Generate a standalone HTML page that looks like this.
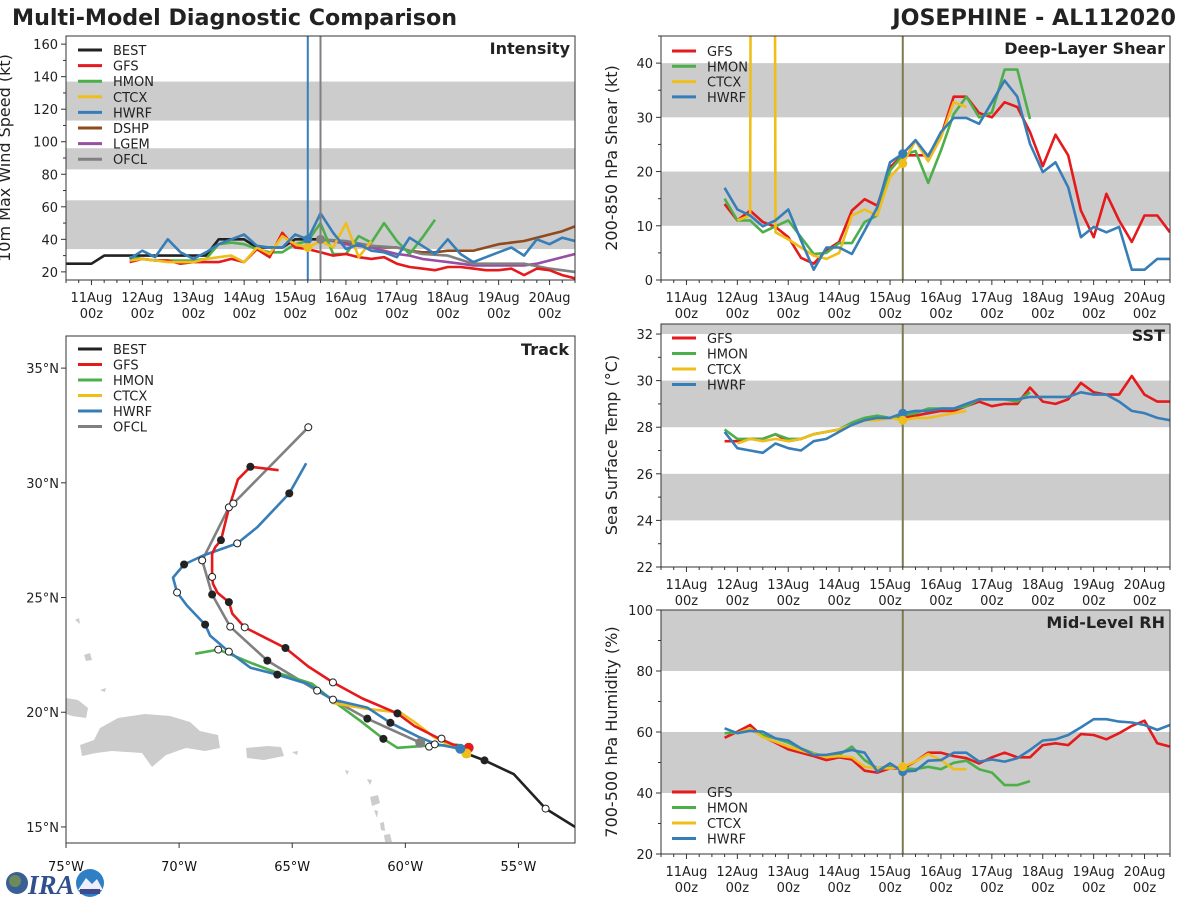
<!DOCTYPE html>
<html><head><meta charset="utf-8">
<style>
html,body{margin:0;padding:0;background:#fff;}
svg{display:block;font-family:"DejaVu Sans","Liberation Sans",sans-serif;}
</style></head>
<body>
<svg id="chart" width="1200" height="900" viewBox="0 0 1200 900" xmlns="http://www.w3.org/2000/svg">
<text x="12" y="25" font-size="22.2" font-weight="bold" fill="#222">Multi-Model Diagnostic Comparison</text>
<text x="1176" y="25" font-size="22.2" font-weight="bold" fill="#222" text-anchor="end">JOSEPHINE - AL112020</text>
<g>
<circle cx="17" cy="883" r="11" fill="#3a5f96"/>
<circle cx="15" cy="881" r="6" fill="#6d8a5a"/>
<text x="28" y="894" font-size="27" font-weight="bold" font-style="italic" fill="#2f4f8f" font-family="Liberation Serif, serif">IRA</text>
<circle cx="90" cy="883" r="14" fill="#2e7fc4"/>
<path d="M78 890 L86 878 L92 884 L97 879 L103 890 Z" fill="#eef"/>
<rect x="80" y="889" width="20" height="5" fill="#3d4b8c"/>
</g>
</svg>
<script>
// ---------------- DATA ----------------
const dayLabels = ["11Aug","12Aug","13Aug","14Aug","15Aug","16Aug","17Aug","18Aug","19Aug","20Aug"];
const intTicks = [20,40,60,80,100,120,140,160];
const shearTicks = [0,10,20,30,40];
const sstTicks = [22,24,26,28,30,32];
const rhTicks = [20,40,60,80,100];
const lonTicks = [-75,-70,-65,-60,-55];
const latTicks = [15,20,25,30,35];

// Intensity (kt), 6-hourly, start day offset from 11Aug00z
const bestIntStart = -0.5;
const bestInt = [25,25,25,30,30,30,30,30,30,30,30,30,40,40,40,35,35,35,40,40,40];
const gfsIntStart = 0.75;
const gfsInt = [26,28,27,27,25,26,26,26,28,26,34,29,44,35,34,32,30,31,29,28,29,25,23,22,21,23,23,22,21,21,22,18,22,21,18,16];
const hmonIntStart = 0.75;
const hmonInt = [29,28,27,27,27,27,28,37,38,37,34,32,32,37,39,50,31,31,42,38,50,39,31,41,52];
const ctcxIntStart = 0.75;
const ctcxInt = [27,28,27,26,26,26,28,29,30,26,35,31,42,37,35,39,35,50,29,39];
const hwrfIntStart = 0.75;
const hwrfInt = [28,33,29,40,32,28,32,37,40,43,36,35,35,43,40,56,44,34,37,33,32,29,41,36,31,40,31,26,29,32,35,30,40,37,41,39];
const dshpIntStart = 4.5;
const dshpInt = [40,39,38,37,36,35,35,33,32,32,33,33,33,35,37,38,39,41,43,45,48];
const lgemIntStart = 4.5;
const lgemInt = [40,39,37,36,35,33,31,30,28,27,26,25,24,24,24,24,24,25,27,29,31];
const ofclIntStart = 4.5;
const ofclInt = [40,39,36,35,31,30,25,25,25,22,20];

// Deep-layer shear (kt)
const gfsShrStart = 0.75;
const gfsShr = [14,11,12.8,10.7,9.8,7.9,4.1,3,5.5,7,12.8,14.9,13.7,20.8,23,23,23,26.6,33.8,33.8,30.8,30,32.8,31.9,27.3,21,26.8,23,12.8,7.9,15.9,11,7,11.9,11.9,8.8];
const hmonShrStart = 0.75;
const hmonShr = [15,11,11,8.8,9.9,11,7.9,4.8,5,6.8,6.8,10.7,11.9,20.2,23,23.8,17.9,23.9,30.6,33.8,30,30.9,38.8,38.8,29.7];
const ctcxShrStart = 1.0;
const ctcxShr = [11,11.9,999,8.8,7.5,6,4.5,3.9,5,11.9,13,11.9,19,21.5,25.7,21.9,26.3,32.8,31.9];
const hwrfShrStart = 0.75;
const hwrfShr = [17,13,11.9,9.9,11,13,7.3,1.9,6,6,4.8,9.1,13.4,21.7,23.3,25.8,22.8,27.3,29.9,29.9,28.8,32.8,36.8,33.8,25.1,19.9,21.7,17.1,7.9,9.8,8.8,9.8,1.9,1.9,3.9,3.9];

// SST (C)
const gfsSstStart = 0.75;
const gfsSst = [27.4,27.4,27.5,27.5,27.7,27.4,27.5,27.7,27.8,27.9,28.1,28.3,28.4,28.4,28.4,28.5,28.6,28.7,28.7,28.9,29.1,28.9,29,29,29.7,29.1,29,29.2,29.9,29.5,29.4,29.4,30.2,29.4,29.1,29.1];
const hmonSstStart = 0.75;
const hmonSst = [27.9,27.5,27.5,27.5,27.7,27.5,27.5,27.7,27.8,27.9,28.2,28.4,28.5,28.4,28.5,28.6,28.8,28.8,28.8,28.9,29.2,29.2,29.2,29.1,29.5];
const ctcxSstStart = 1.0;
const ctcxSst = [27.3,27.5,27.4,27.5,27.4,27.5,27.7,27.8,27.9,28.1,28.3,28.3,28.4,28.3,28.4,28.4,28.5,28.6,28.7];
const hwrfSstStart = 0.75;
const hwrfSst = [27.8,27.1,27.0,26.9,27.3,27.1,27.0,27.4,27.5,27.8,28.1,28.3,28.4,28.4,28.6,28.7,28.7,28.8,28.8,29,29.2,29.2,29.2,29.2,29.3,29.3,29.3,29.3,29.5,29.4,29.4,29.1,28.7,28.6,28.4,28.3];

// Mid-level RH (%)
const gfsRhStart = 0.75;
const gfsRh = [58.1,60.1,62.3,58.5,56.5,54.3,53.2,52.1,50.8,51.7,51,47.3,46.7,48.1,48.1,50.3,53.2,53.2,52.1,51.4,49.7,51.7,53.2,51.7,51.7,55.7,56.3,55.7,59.3,59,57.6,59.6,62,63.7,56.3,55.2];
const hmonRhStart = 0.75;
const hmonRh = [59.6,59.8,60.7,59,57.9,56.5,54.6,53,51.9,52.5,55.2,50.8,48.1,48.6,48.1,47.8,48.6,47.8,49.9,50.6,47.8,46.7,42.6,42.6,43.9];
const ctcxRhStart = 1.0;
const ctcxRh = [59.6,61.2,58.3,56.8,55.2,53.9,52.8,51.7,52.1,51.7,48.6,48.1,48.1,48.6,50.3,52.8,50.8,47.8,47.8];
const hwrfRhStart = 0.75;
const hwrfRh = [61.2,59.6,60.4,60.1,57.9,57.2,54.6,52.5,52.5,53.2,54.1,53.2,47,49.7,47,47.3,50.6,50.8,53.2,53.2,50.3,51,50.3,51.4,54.1,57.2,57.6,59,61.5,64.2,64.2,63.4,63.1,62.3,60.7,62.3];

// Tracks [lon, lat]
const bestTrack = [[-52.5,15.0],[-53.8,15.8],[-55.2,17.3],[-56.5,17.9],[-57.3,18.2],[-57.6,18.4]];
const bestTrackOpen = [[-53.8,15.8]];
const bestTrackFilled = [[-56.5,17.9]];
const gfsTrack = [[-57.2,18.45],[-57.9,18.6],[-58.6,18.9],[-59.6,19.4],[-60.35,19.95],[-61.9,20.6],[-63.2,21.3],[-64.3,22.0],[-65.3,22.8],[-66.1,23.2],[-67.1,23.7],[-67.65,24.3],[-67.8,24.8],[-68.3,25.2],[-68.5,25.6],[-68.54,25.9],[-68.54,26.9],[-68.4,27.2],[-68.15,27.5],[-67.8,28.9],[-67.4,30.15],[-66.85,30.7],[-65.6,30.55]];
const gfsTrackFilled = [[-60.35,19.95],[-65.3,22.8],[-67.8,24.8],[-68.15,27.5],[-66.85,30.7]];
const gfsTrackOpen = [[-58.4,18.85],[-63.2,21.3],[-67.1,23.7],[-68.54,25.9]];
const hmonTrack = [[-57.65,18.58],[-59.03,18.54],[-60.35,18.45],[-60.97,18.84],[-62.0,19.63],[-63.2,20.5],[-64.12,21.24],[-65.66,21.72],[-66.85,22.16],[-67.8,22.55],[-68.27,22.73],[-69.29,22.55]];
const hmonTrackFilled = [[-60.97,18.84]];
const hmonTrackOpen = [[-58.95,18.5],[-68.27,22.73]];
const ctcxTrack = [[-57.3,18.2],[-58.0,18.54],[-58.75,18.93],[-59.55,19.54],[-60.2,19.98],[-61.7,20.15],[-63.25,20.41]];
const hwrfTrack = [[-57.57,18.41],[-58.6,18.6],[-59.42,18.93],[-60.66,19.54],[-61.68,20.2],[-63.2,20.55],[-64.34,21.24],[-65.66,21.64],[-66.85,21.94],[-67.8,22.64],[-68.63,23.34],[-68.85,23.82],[-69.65,24.65],[-70.09,25.22],[-70.27,25.87],[-69.78,26.44],[-68.94,26.83],[-67.43,27.36],[-66.55,28.06],[-65.13,29.54],[-64.38,30.85]];
const hwrfTrackFilled = [[-60.66,19.54],[-65.66,21.64],[-68.85,23.82],[-69.78,26.44],[-65.13,29.54]];
const hwrfTrackOpen = [[-58.7,18.6],[-67.8,22.64],[-70.09,25.22],[-67.43,27.36]];
const ofclTrack = [[-59.34,18.67],[-61.68,19.72],[-63.2,20.55],[-63.9,20.94],[-66.1,22.25],[-67.74,23.73],[-68.54,25.13],[-68.98,26.62],[-67.8,28.93],[-67.6,29.1],[-64.29,32.42]];
const ofclTrackFilled = [[-61.68,19.72],[-66.1,22.25],[-68.54,25.13]];
const ofclTrackOpen = [[-63.2,20.55],[-63.9,20.94],[-67.74,23.73],[-68.98,26.62],[-67.8,28.93],[-67.6,29.1],[-64.29,32.42]];

// ---------------- DRAW ----------------
const NS = 'http://www.w3.org/2000/svg';
const svg = document.getElementById('chart');
function mk(tag, attrs, parent) {
  const e = document.createElementNS(NS, tag);
  for (const k in attrs) e.setAttribute(k, attrs[k]);
  (parent || svg).appendChild(e);
  return e;
}
const C = {BEST:'#222222', GFS:'#e41a1c', HMON:'#4daf4a', CTCX:'#f0be1a', HWRF:'#377eb8', DSHP:'#8f4a1e', LGEM:'#984ea3', OFCL:'#808080'};

function timePanel(id, x0, y0, w, h, vmin, vmax) {
  const p = {id, x0, y0, w, h, vmin, vmax};
  p.x = d => x0 + (d + 0.5) / 10 * w;
  p.y = v => y0 + h - (v - vmin) / (vmax - vmin) * h;
  const cp = mk('clipPath', {id: 'clip-' + id});
  mk('rect', {x: x0, y: y0, width: w, height: h}, cp);
  p.g = mk('g', {'clip-path': 'url(#clip-' + id + ')'});
  
  
  return p;
}
function band(p, a, b) {
  const r = mk('rect', {x: p.x0, y: p.y(b), width: p.w, height: p.y(a) - p.y(b), fill: '#cccccc'}, p.g);
  
  
}
function frame(p) {
  const r = mk('rect', {x: p.x0, y: p.y0, width: p.w, height: p.h, fill: 'none', stroke: '#333', 'stroke-width': 1});
  
  
}
function timeAxis(p) {
  for (let q = -2; q <= 38; q++) {
    const d = q / 4; const xx = p.x(d);
    if (xx < p.x0 - 0.5 || xx > p.x0 + p.w + 0.5) continue;
    const major = q % 4 === 0;
    const t = mk('line', {x1: xx, x2: xx, y1: p.y0 + p.h, y2: p.y0 + p.h + (major ? 5 : 3), stroke: '#333', 'stroke-width': 1});
    
    
  }
  dayLabels.forEach((lab, i) => {
    const xx = p.x(i);
    const t1 = mk('text', {x: xx, y: p.y0 + p.h + 22, 'font-size': 13, 'text-anchor': 'middle', fill: '#222'});
    t1.textContent = lab;
    
    
    const t2 = mk('text', {x: xx, y: p.y0 + p.h + 38, 'font-size': 13, 'text-anchor': 'middle', fill: '#222'});
    t2.textContent = '00z';
    
    
  });
}
function yAxis(p, ticks, minorStep, title, titleY, titleOff) {
  for (let v = Math.ceil(p.vmin / minorStep) * minorStep; v <= p.vmax + 1e-9; v += minorStep) {
    const yy = p.y(v);
    const major = ticks.indexOf(Math.round(v * 100) / 100) >= 0;
    const t = mk('line', {x1: p.x0 - (major ? 5 : 3), x2: p.x0, y1: yy, y2: yy, stroke: '#333', 'stroke-width': 1});
    
    
  }
  ticks.forEach(v => {
    const t = mk('text', {x: p.x0 - 8, y: p.y(v) + 5, 'font-size': 13, 'text-anchor': 'end', fill: '#222'});
    t.textContent = v;
    
    
  });
  const tx = p.x0 - titleOff;
  const t = mk('text', {x: tx, y: titleY, 'font-size': 16, 'text-anchor': 'middle', fill: '#222', transform: 'rotate(-90 ' + tx + ' ' + titleY + ')'});
  t.textContent = title;
  
  
}
function panelTitle(p, text, yy) {
  const t = mk('text', {x: p.x0 + p.w - 5, y: yy, 'font-size': 16, 'font-weight': 'bold', 'text-anchor': 'end', fill: '#222'});
  t.textContent = text;
  
  
}
function series(p, name, start, step, vals) {
  const pts = vals.map((v, i) => p.x(start + i * step).toFixed(1) + ',' + p.y(v).toFixed(1)).join(' ');
  const l = mk('polyline', {points: pts, fill: 'none', stroke: C[name], 'stroke-width': 2.6, 'stroke-linejoin': 'round'}, p.g);
  
  
}
function dot(p, name, d, v) {
  const c = mk('circle', {cx: p.x(d), cy: p.y(v), r: 4.5, fill: C[name]}, p.g);
  
  
}
function vline(p, d, color, nm) {
  const l = mk('line', {x1: p.x(d), x2: p.x(d), y1: p.y0, y2: p.y0 + p.h, stroke: color, 'stroke-width': 2}, p.g);
  
  
}
function legend(x, y, names, dy) {
  names.forEach((n, i) => {
    const l = mk('line', {x1: x, x2: x + 24, y1: y + i * dy, y2: y + i * dy, stroke: C[n], 'stroke-width': 3});
    
    
    const t = mk('text', {x: x + 35, y: y + i * dy + 5, 'font-size': 13, fill: '#222'});
    t.textContent = n;
    
    
  });
}

// Intensity
const pI = timePanel('intensity', 66, 36, 509, 244, 15, 165);
band(pI, 34, 64); band(pI, 83, 96); band(pI, 113, 137);
series(pI, 'BEST', bestIntStart, 0.25, bestInt);
series(pI, 'DSHP', dshpIntStart, 0.25, dshpInt);
series(pI, 'LGEM', lgemIntStart, 0.25, lgemInt);
series(pI, 'OFCL', ofclIntStart, 0.5, ofclInt);
series(pI, 'HMON', hmonIntStart, 0.25, hmonInt);
series(pI, 'GFS', gfsIntStart, 0.25, gfsInt);
series(pI, 'CTCX', ctcxIntStart, 0.25, ctcxInt);
series(pI, 'HWRF', hwrfIntStart, 0.25, hwrfInt);
vline(pI, 4.25, C.HWRF, 'intensity-hwrf-init-line');
vline(pI, 4.5, C.OFCL, 'intensity-ofcl-init-line');
dot(pI, 'HWRF', 4.25, hwrfInt[14]); dot(pI, 'CTCX', 4.25, ctcxInt[14]); dot(pI, 'OFCL', 4.5, ofclInt[0]);
frame(pI); timeAxis(pI); yAxis(pI, intTicks, 10, '10m Max Wind Speed (kt)', 158, 56);
panelTitle(pI, 'Intensity', 54);
legend(78, 50, ['BEST','GFS','HMON','CTCX','HWRF','DSHP','LGEM','OFCL'], 15.6);

// Shear
const pS = timePanel('shear', 661, 36, 509, 244, 0, 45);
band(pS, 10, 20); band(pS, 30, 40);
series(pS, 'GFS', gfsShrStart, 0.25, gfsShr);
series(pS, 'HMON', hmonShrStart, 0.25, hmonShr);
series(pS, 'CTCX', ctcxShrStart, 0.25, ctcxShr);
series(pS, 'HWRF', hwrfShrStart, 0.25, hwrfShr);
vline(pS, 4.25, '#7d7a4f', 'shear-init-line');
dot(pS, 'HWRF', 4.25, hwrfShr[14]); dot(pS, 'CTCX', 4.25, ctcxShr[13]);
frame(pS); timeAxis(pS); yAxis(pS, shearTicks, 5, '200-850 hPa Shear (kt)', 158, 44);
panelTitle(pS, 'Deep-Layer Shear', 54);
legend(672, 51, ['GFS','HMON','CTCX','HWRF'], 15.3);

// SST
const pT = timePanel('sst', 661, 324, 509, 243, 22, 32.43);
band(pT, 24, 26); band(pT, 28, 30); band(pT, 32, 33);
series(pT, 'GFS', gfsSstStart, 0.25, gfsSst);
series(pT, 'HMON', hmonSstStart, 0.25, hmonSst);
series(pT, 'CTCX', ctcxSstStart, 0.25, ctcxSst);
series(pT, 'HWRF', hwrfSstStart, 0.25, hwrfSst);
vline(pT, 4.25, '#7d7a4f', 'sst-init-line');
dot(pT, 'HWRF', 4.25, hwrfSst[14]); dot(pT, 'CTCX', 4.25, ctcxSst[13]);
frame(pT); timeAxis(pT); yAxis(pT, sstTicks, 1, 'Sea Surface Temp (\u00B0C)', 445, 44);
panelTitle(pT, 'SST', 341);
legend(672, 338, ['GFS','HMON','CTCX','HWRF'], 15.5);

// RH
const pR = timePanel('rh', 661, 610, 509, 244, 20, 100);
band(pR, 40, 60); band(pR, 80, 100);
series(pR, 'GFS', gfsRhStart, 0.25, gfsRh);
series(pR, 'HMON', hmonRhStart, 0.25, hmonRh);
series(pR, 'CTCX', ctcxRhStart, 0.25, ctcxRh);
series(pR, 'HWRF', hwrfRhStart, 0.25, hwrfRh);
vline(pR, 4.25, '#7d7a4f', 'rh-init-line');
dot(pR, 'HWRF', 4.25, hwrfRh[14]); dot(pR, 'CTCX', 4.25, ctcxRh[13]);
frame(pR); timeAxis(pR); yAxis(pR, rhTicks, 10, '700-500 hPa Humidity (%)', 732, 44);
panelTitle(pR, 'Mid-Level RH', 628);
legend(672, 792, ['GFS','HMON','CTCX','HWRF'], 15.5);

// Track map
const M = {id: 'track', x0: 66, y0: 336, w: 509, h: 507, lon0: -75, lon1: -52.5, lat0: 14.3, lat1: 36.4};
const lonX = lon => M.x0 + (lon - M.lon0) / (M.lon1 - M.lon0) * M.w;
const latY = lat => M.y0 + M.h - (lat - M.lat0) / (M.lat1 - M.lat0) * M.h;
const mcp = mk('clipPath', {id: 'clip-track'});
mk('rect', {x: M.x0, y: M.y0, width: M.w, height: M.h}, mcp);
const mg = mk('g', {'clip-path': 'url(#clip-track)'});


const land = mk('g', {fill: '#cccccc'}, mg);


['M66 698 L78 700 L88 708 L86 718 L72 716 L66 714 Z',
 'M80 745 L94 740 L100 728 L118 718 L145 714 L170 716 L190 722 L200 731 L218 735 L220 748 L205 751 L186 748 L166 755 L152 767 L142 753 L112 751 L96 753 L82 756 Z',
 'M246 748 L268 746 L281 747 L284 756 L264 760 L247 758 Z',
 'M84 655 L90 653 L92 660 L86 661 Z', 'M75 620 L79 618 L80 624 Z', 'M100 690 L106 688 L105 692 Z',
 'M292 752 L298 751 L297 755 Z', 'M345 770 L349 771 L347 775 Z', 'M367 779 L372 780 L370 785 Z',
 'M370 797 L378 795 L380 803 L372 806 Z', 'M374 810 L378 811 L377 818 Z', 'M380 823 L384 822 L385 831 L381 830 Z', 'M384 835 L390 834 L392 842 L385 842 Z'
].forEach(d => mk('path', {d}, land));

function track(name, pts) {
  const l = mk('polyline', {points: pts.map(p => lonX(p[0]).toFixed(1) + ',' + latY(p[1]).toFixed(1)).join(' '), fill: 'none', stroke: C[name], 'stroke-width': 2.6, 'stroke-linejoin': 'round'}, mg);
  
  
}
function trackMarks(name, filled, open) {
  filled.forEach(p => {
    const c = mk('circle', {cx: lonX(p[0]), cy: latY(p[1]), r: 4, fill: '#222'}, mg);
    
    
  });
  open.forEach(p => {
    const c = mk('circle', {cx: lonX(p[0]), cy: latY(p[1]), r: 3.5, fill: '#fff', stroke: '#222', 'stroke-width': 1}, mg);
    
    
  });
}
function startDot(name, p) {
  const c = mk('circle', {cx: lonX(p[0]), cy: latY(p[1]), r: 5, fill: C[name]}, mg);
  
  
}
track('BEST', bestTrack);
track('OFCL', ofclTrack);
track('HMON', hmonTrack);
track('CTCX', ctcxTrack);
track('HWRF', hwrfTrack);
track('GFS', gfsTrack);
trackMarks('BEST', bestTrackFilled, bestTrackOpen);
trackMarks('GFS', gfsTrackFilled, gfsTrackOpen);
trackMarks('HMON', hmonTrackFilled, hmonTrackOpen);
trackMarks('HWRF', hwrfTrackFilled, hwrfTrackOpen);
trackMarks('OFCL', ofclTrackFilled, ofclTrackOpen);
startDot('GFS', gfsTrack[0]); startDot('CTCX', ctcxTrack[0]); startDot('HWRF', hwrfTrack[0]); startDot('OFCL', ofclTrack[0]);

const mf = mk('rect', {x: M.x0, y: M.y0, width: M.w, height: M.h, fill: 'none', stroke: '#333', 'stroke-width': 1});


lonTicks.forEach(lon => {
  const xx = lonX(lon);
  const tk = mk('line', {x1: xx, x2: xx, y1: M.y0 + M.h, y2: M.y0 + M.h + 5, stroke: '#333'});
  
  
  const t = mk('text', {x: xx, y: 871, 'font-size': 13, 'text-anchor': 'middle', fill: '#111'});
  t.textContent = Math.abs(lon) + '\u00B0W';
  
  
});
latTicks.forEach(lat => {
  const yy = latY(lat);
  const tk = mk('line', {x1: M.x0 - 5, x2: M.x0, y1: yy, y2: yy, stroke: '#333'});
  
  
  const t = mk('text', {x: M.x0 - 7, y: yy + 5, 'font-size': 13, 'text-anchor': 'end', fill: '#222'});
  t.textContent = lat + '\u00B0N';
  
  
});
const tt = mk('text', {x: M.x0 + M.w - 6, y: 355, 'font-size': 16, 'font-weight': 'bold', 'text-anchor': 'end', fill: '#222'});
tt.textContent = 'Track';


legend(78, 349, ['BEST','GFS','HMON','CTCX','HWRF','OFCL'], 15.5);
</script>
</body></html>
